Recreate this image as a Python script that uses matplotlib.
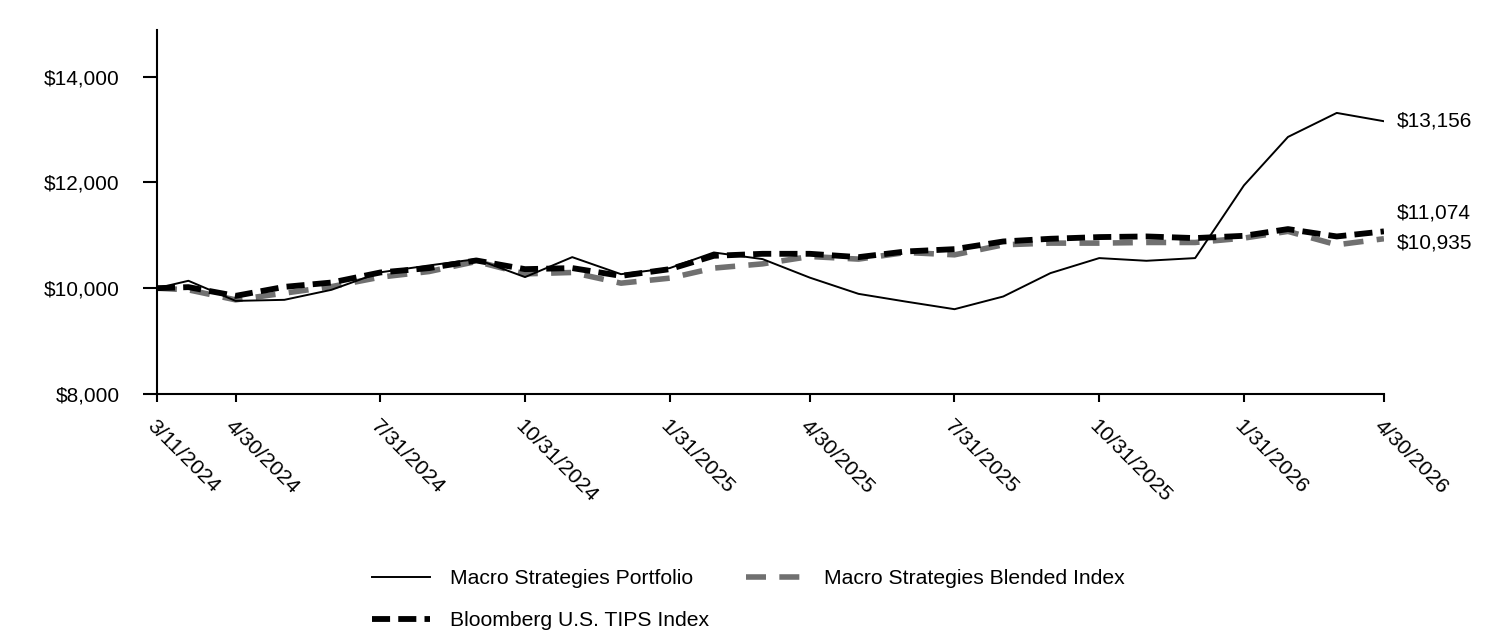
import matplotlib
matplotlib.use("Agg")
import matplotlib.pyplot as plt
import pandas as pd

plt.rcParams['font.family'] = ['Liberation Sans', 'DejaVu Sans']

dates = ["2024-03-11", "2024-03-31", "2024-04-30", "2024-05-31", "2024-06-30", "2024-07-31",
         "2024-08-31", "2024-09-30", "2024-10-31", "2024-11-30", "2024-12-31", "2025-01-31",
         "2025-02-28", "2025-03-31", "2025-04-30", "2025-05-31", "2025-06-30", "2025-07-31",
         "2025-08-31", "2025-09-30", "2025-10-31", "2025-11-30", "2025-12-31", "2026-01-31",
         "2026-02-28", "2026-03-31", "2026-04-30"]

portfolio = [10000, 10140, 9760, 9780, 9970, 10300, 10430, 10550, 10210, 10587, 10265, 10380,
             10675, 10550, 10200, 9893, 9747, 9603, 9843, 10285, 10569, 10518, 10569, 11943,
             12859, 13313, 13156]
blended = [10000, 9969, 9780, 9906, 10030, 10209, 10315, 10505, 10271, 10297, 10095, 10190,
           10380, 10460, 10599, 10550, 10675, 10631, 10820, 10852, 10852, 10864, 10864, 10947,
           11074, 10820, 10935]
tips = [10000, 10020, 9855, 10025, 10107, 10297, 10380, 10524, 10360, 10380, 10233, 10360,
        10612, 10650, 10650, 10587, 10694, 10738, 10883, 10934, 10966, 10978, 10947, 10990,
        11117, 10978, 11074]

series_names = ["Macro Strategies Portfolio", "Macro Strategies Blended Index", "Bloomberg U.S. TIPS Index"]
end_labels = ["$13,156", "$11,074", "$10,935"]

tick_dates = ["2024-03-11", "2024-04-30", "2024-07-31", "2024-10-31", "2025-01-31", "2025-04-30",
              "2025-07-31", "2025-10-31", "2026-01-31", "2026-04-30"]
tick_labels = ["3/11/2024", "4/30/2024", "7/31/2024", "10/31/2024", "1/31/2025", "4/30/2025",
               "7/31/2025", "10/31/2025", "1/31/2026", "4/30/2026"]
y_ticks = [8000, 10000, 12000, 14000]
y_tick_labels = ["$8,000", "$10,000", "$12,000", "$14,000"]

x = pd.to_datetime(dates)
xt = pd.to_datetime(tick_dates)

FS = 15
fig = plt.figure(figsize=(15.12, 6.36), dpi=100)
ax = fig.add_axes([0.1038, 0.3805, 0.8115, 0.5723])

gray = '#707070'
l_bl, = ax.plot(x, blended, color=gray, lw=4.0, dashes=(3.6, 2.4), zorder=2)
l_tp, = ax.plot(x, tips, color='black', lw=4.2, dashes=(3.1, 1.4), zorder=3)
l_pf, = ax.plot(x, portfolio, color='black', lw=1.4, zorder=4)

ax.set_xlim(x[0], x[-1])
ax.set_ylim(8000, 14880)
ax.set_yticks(y_ticks)
ax.set_yticklabels(y_tick_labels, fontsize=FS)
ax.set_xticks(xt)
ax.set_xticklabels(tick_labels, fontsize=15.4, rotation=-45, ha='left', va='top', rotation_mode='anchor')

for s in ['top', 'right']:
    ax.spines[s].set_visible(False)
for s in ['left', 'bottom']:
    ax.spines[s].set_linewidth(1.5)
ax.tick_params(axis='x', direction='out', length=6, width=1.5, colors='black', pad=10)
ax.tick_params(axis='y', direction='out', length=10, width=1.5, colors='black', pad=17)

# end labels
ax.annotate(end_labels[0], xy=(x[-1], portfolio[-1]), xytext=(9.5, 0), textcoords='offset points',
            fontsize=FS, va='center', ha='left', annotation_clip=False)
ax.annotate(end_labels[1], xy=(x[-1], tips[-1]), xytext=(9.5, 13), textcoords='offset points',
            fontsize=FS, va='center', ha='left', annotation_clip=False)
ax.annotate(end_labels[2], xy=(x[-1], blended[-1]), xytext=(9.5, -3), textcoords='offset points',
            fontsize=FS, va='center', ha='left', annotation_clip=False)

handles = [l_pf, l_tp, l_bl]
labels = [series_names[0], series_names[2], series_names[1]]
fig.legend(handles, labels, ncol=2, frameon=False, fontsize=15.2,
           loc='upper left', bbox_to_anchor=(372 / 1512, 1 - 569 / 636), handlelength=2.75,
           handletextpad=0.95, columnspacing=1.75, labelspacing=1.1,
           borderpad=0, borderaxespad=0)

fig.savefig("out.png", dpi=100)
